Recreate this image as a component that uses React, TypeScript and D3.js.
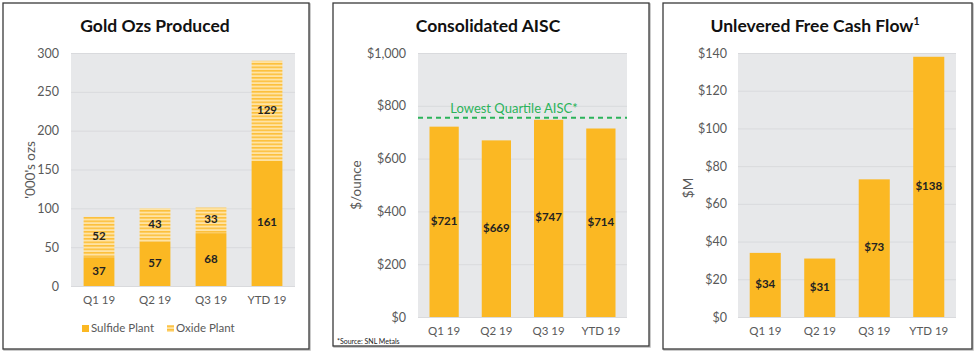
// @ts-nocheck
import { useEffect, useRef } from 'react';
import * as d3 from 'd3';

const quarters = ['Q1 19', 'Q2 19', 'Q3 19', 'YTD 19'];
const sulfideOzs = [37, 57, 68, 161];
const oxideOzs = [52, 43, 33, 129];
const aisc = [721, 669, 747, 714];
const lowestQuartileAisc = 755;
const freeCashFlow = [34, 31, 73, 138];

const GOLD = '#FBB823';
const FONT = 'Lato, "Open Sans", sans-serif';

const App = () => {
  const svgRef = useRef();

  useEffect(() => {
    document.body.style.margin = '0';
    const svg = d3.select(svgRef.current);
    svg.selectAll('*').remove();

    // striped fill for oxide plant
    const defs = svg.append('defs');
    const pat = defs.append('pattern')
      .attr('id', 'oxide')
      .attr('patternUnits', 'userSpaceOnUse')
      .attr('width', 8)
      .attr('height', 3.5);
    pat.append('rect').attr('width', 8).attr('height', 3.5).attr('fill', '#FFE3A4');
    pat.append('rect').attr('y', 0).attr('width', 8).attr('height', 1.6).attr('fill', '#FCC03C');

    const drawPanel = (cfg) => {
      const g = svg.append('g');
      // frame
      g.append('rect')
        .attr('x', cfg.box[0] + 1).attr('y', cfg.box[1] + 1)
        .attr('width', cfg.box[2]).attr('height', cfg.box[3])
        .attr('fill', 'none').attr('stroke', '#bbb').attr('stroke-width', 1.5);
      g.append('rect')
        .attr('x', cfg.box[0]).attr('y', cfg.box[1])
        .attr('width', cfg.box[2]).attr('height', cfg.box[3])
        .attr('fill', '#fff').attr('stroke', '#3a3a3a').attr('stroke-width', 1.3);

      const [x0, x1, y0, y1] = cfg.plot;
      const x = d3.scaleBand().domain(quarters).range([x0, x1]).paddingInner(cfg.pad).paddingOuter(cfg.pad / 2);
      const y = d3.scaleLinear().domain([0, cfg.max]).range([y1, y0]);

      g.append('rect')
        .attr('x', x0).attr('y', y0).attr('width', x1 - x0).attr('height', y1 - y0)
        .attr('fill', '#E7E8EA');

      const ticks = d3.range(0, cfg.max + 1, cfg.step);
      g.selectAll('.grid').data(ticks).enter().append('line')
        .attr('x1', x0).attr('x2', x1)
        .attr('y1', d => y(d) + 0.5).attr('y2', d => y(d) + 0.5)
        .attr('stroke', '#D9DADD').attr('stroke-width', 1);

      const yAxis = g.append('g')
        .attr('transform', `translate(${x0},0)`)
        .call(d3.axisLeft(y).tickValues(ticks).tickSize(0).tickPadding(cfg.tickPad).tickFormat(cfg.fmt));
      yAxis.select('.domain').remove();
      yAxis.selectAll('text').attr('fill', '#595959').style('font-size', '12.5px').style('font-family', FONT);

      const xAxis = g.append('g')
        .attr('transform', `translate(0,${y1})`)
        .call(d3.axisBottom(x).tickSize(0).tickPadding(cfg.xPad));
      xAxis.select('.domain').remove();
      xAxis.selectAll('text').attr('fill', '#595959').style('font-size', '11.5px').style('font-family', FONT);

      // title
      const t = g.append('text')
        .attr('x', cfg.titleX).attr('y', 32)
        .attr('text-anchor', 'middle')
        .style('font-family', FONT).style('font-weight', 'bold').style('font-size', '17.5px')
        .attr('fill', '#111')
        .text(cfg.title);
      if (cfg.sup) {
        t.append('tspan').attr('dy', -7).style('font-size', '10.5px').text(cfg.sup);
      }

      // y title
      g.append('text')
        .attr('transform', `translate(${cfg.yTitle[0]},${cfg.yTitle[1]}) rotate(-90)`)
        .attr('text-anchor', 'middle')
        .attr('dominant-baseline', 'middle')
        .style('font-family', FONT).style('font-size', '13.5px')
        .attr('fill', '#595959')
        .text(cfg.yLabel);

      return { g, x, y };
    };

    const label = (g, xx, yy, txt) =>
      g.append('text')
        .attr('x', xx).attr('y', yy)
        .attr('text-anchor', 'middle').attr('dominant-baseline', 'middle')
        .style('font-family', FONT).style('font-weight', 'bold').style('font-size', '11.5px')
        .attr('fill', '#222')
        .text(txt);

    // Panel 1: Gold Ozs Produced
    {
      const { g, x, y } = drawPanel({
        box: [3, 3, 306, 346], plot: [71, 295, 53, 286], max: 300, step: 50,
        fmt: d3.format('d'), tickPad: 12, xPad: 10, pad: 0.45,
        title: 'Gold Ozs Produced', titleX: 155, yTitle: [32, 170], yLabel: "'000's ozs"
      });
      quarters.forEach((q, i) => {
        const s = sulfideOzs[i], o = oxideOzs[i];
        g.append('rect')
          .attr('x', x(q)).attr('y', y(s + o)).attr('width', x.bandwidth()).attr('height', y(s) - y(s + o))
          .attr('fill', 'url(#oxide)');
        g.append('rect')
          .attr('x', x(q)).attr('y', y(s)).attr('width', x.bandwidth()).attr('height', y(0) - y(s))
          .attr('fill', GOLD);
        label(g, x(q) + x.bandwidth() / 2, (y(0) + y(s)) / 2, s);
        label(g, x(q) + x.bandwidth() / 2, (y(s) + y(s + o)) / 2, o);
      });
      // legend
      const legend = [
        { name: 'Sulfide Plant', fill: GOLD, x: 82 },
        { name: 'Oxide Plant', fill: 'url(#oxide)', x: 167 }
      ];
      legend.forEach(l => {
        g.append('rect').attr('x', l.x).attr('y', 325).attr('width', 7).attr('height', 7).attr('fill', l.fill);
        g.append('text').attr('x', l.x + 9).attr('y', 329)
          .attr('dominant-baseline', 'middle')
          .style('font-family', FONT).style('font-size', '11.5px').attr('fill', '#595959')
          .text(l.name);
      });
    }

    // Panel 2: Consolidated AISC
    {
      const { g, x, y } = drawPanel({
        box: [333, 3, 316, 343], plot: [418, 627, 53, 317], max: 1000, step: 200,
        fmt: d => '$' + d3.format(',')(d), tickPad: 12, xPad: 10, pad: 0.44,
        title: 'Consolidated AISC', titleX: 488, yTitle: [358, 185], yLabel: '$/ounce'
      });
      quarters.forEach((q, i) => {
        g.append('rect')
          .attr('x', x(q)).attr('y', y(aisc[i])).attr('width', x.bandwidth()).attr('height', y(0) - y(aisc[i]))
          .attr('fill', GOLD);
        label(g, x(q) + x.bandwidth() / 2, (y(0) + y(aisc[i])) / 2, '$' + aisc[i]);
      });
      g.append('line')
        .attr('x1', 418).attr('x2', 627)
        .attr('y1', y(lowestQuartileAisc)).attr('y2', y(lowestQuartileAisc))
        .attr('stroke', '#2BB35A').attr('stroke-width', 2).attr('stroke-dasharray', '5,4');
      g.append('text')
        .attr('x', 514).attr('y', y(lowestQuartileAisc) - 5)
        .attr('text-anchor', 'middle')
        .style('font-family', FONT).style('font-size', '13px').attr('fill', '#2BB35A')
        .text('Lowest Quartile AISC*');
      g.append('text')
        .attr('x', 337).attr('y', 344)
        .style('font-family', FONT).style('font-size', '7px').attr('fill', '#222')
        .text('*Source:  SNL Metals');
    }

    // Panel 3: Unlevered Free Cash Flow
    {
      const { g, x, y } = drawPanel({
        box: [663, 3, 309, 346], plot: [738, 956, 53, 317], max: 140, step: 20,
        fmt: d => '$' + d, tickPad: 11, xPad: 10, pad: 0.43,
        title: 'Unlevered Free Cash Flow', sup: '1', titleX: 815, yTitle: [690, 188], yLabel: '$M'
      });
      quarters.forEach((q, i) => {
        g.append('rect')
          .attr('x', x(q)).attr('y', y(freeCashFlow[i])).attr('width', x.bandwidth()).attr('height', y(0) - y(freeCashFlow[i]))
          .attr('fill', GOLD);
        label(g, x(q) + x.bandwidth() / 2, (y(0) + y(freeCashFlow[i])) / 2, '$' + freeCashFlow[i]);
      });
    }
  }, []);

  return <svg ref={svgRef} width={975} height={352} style={{ display: 'block', background: '#fff' }}></svg>;
};

export default App;
